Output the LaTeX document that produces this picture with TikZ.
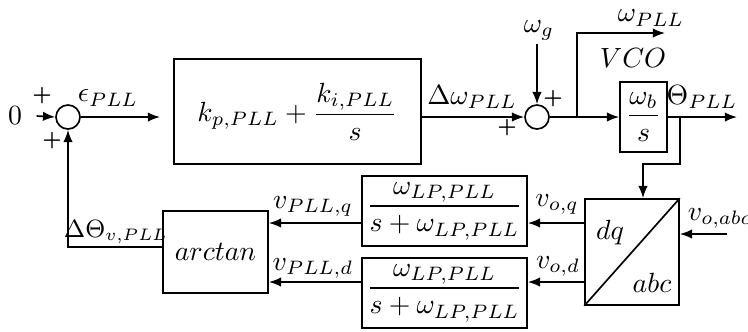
\documentclass[tikz,border=0pt]{standalone}
\usepackage{amsmath}
\usetikzlibrary{arrows.meta}
\newdimen\unitpx
\unitpx=0.36pt
\begin{document}
\begin{tikzpicture}[x=0.36pt,y=-0.36pt,
  line width=0.6pt,
  >={Latex[length=4.4pt,width=3.4pt]},
  block/.style={draw, inner sep=0pt, align=center},
  sumnode/.style={draw, circle, inner sep=0pt, minimum size=24*\unitpx},
  lbl/.style={inner sep=1pt},
  sgn/.style={inner sep=0pt, font=\scriptsize\bfseries}]
\useasboundingbox (0,0) rectangle (748,331);

% helper rows for the horizontal signal lines
\coordinate (qy) at (0,223);
\coordinate (dy) at (0,282);
\coordinate (fb) at (0,247);

% forward path
\node[lbl] (zero) at (15,116) {$0$};
\node[sumnode] (s1) at (68,117) {};
\coordinate (eend) at (160,117);
\node[block, minimum width=247*\unitpx, minimum height=105*\unitpx] (kp) at (297.5,111.5)
  {$k_{p,PLL}+\dfrac{k_{i,PLL}}{s}$};
\node[sumnode] (s2) at (537,117) {};
\node[lbl, anchor=south] (wg) at (539,44) {$\omega_g$};
\node[block, minimum width=47*\unitpx, minimum height=70*\unitpx] (int) at (643.5,117)
  {$\dfrac{\omega_b}{s}$};
\coordinate (br1) at (577,117);
\coordinate (wend) at (665,33);
\coordinate (br2) at (680,117);
\coordinate (thend) at (737,117);
\coordinate (bk) at (643,164);

% dq/abc transformation
\node[block, minimum width=94*\unitpx, minimum height=106*\unitpx] (dq) at (632,252) {};
\draw (dq.south west) -- (dq.north east);
\node[lbl] (dqt) at (610,233) {$dq$};
\node[lbl] (abct) at (652,283) {$abc$};
\coordinate (vin) at (727,234);

% low-pass filters and phase detector
\node[block, minimum width=165*\unitpx, minimum height=70*\unitpx] (lp1) at (444.5,211)
  {$\dfrac{\omega_{LP,PLL}}{s+\omega_{LP,PLL}}$};
\node[block, minimum width=165*\unitpx, minimum height=70*\unitpx] (lp2) at (444.5,293)
  {$\dfrac{\omega_{LP,PLL}}{s+\omega_{LP,PLL}}$};
\node[block, minimum width=105*\unitpx, minimum height=82*\unitpx] (atan) at (215.5,252)
  {$arctan$};

% connectors
\draw[->] ([xshift=4pt]zero.east) -- (s1.west);
\draw[->] (s1.east) -- (eend);
\draw[->] (kp.east |- s2.west) -- (s2.west);
\draw[->] (wg.south -| s2.north) -- (s2.north);
\draw[->] (s2.east) -- (int.west);
\draw[->] (br1) |- (wend);
\draw[->] (int.east) -- (thend);
\draw[->] (br2) |- (bk) -- (bk |- dq.north);
\draw[->] (vin) -- (vin -| dq.east);
\draw[->] (dq.west |- qy) -- (lp1.east |- qy);
\draw[->] (dq.west |- dy) -- (lp2.east |- dy);
\draw[->] (lp1.west |- qy) -- (atan.east |- qy);
\draw[->] (lp2.west |- dy) -- (atan.east |- dy);
\draw[->] (atan.west |- fb) -| (s1.south);

% signal labels
\node[lbl] (leps) at (108,98) {$\epsilon_{PLL}$};
\node[lbl] (ldw) at (472,97) {$\Delta\omega_{PLL}$};
\node[lbl] (lw) at (651,18) {$\omega_{PLL}$};
\node[lbl] (lvco) at (633,58) {$VCO$};
\node[lbl] (lth) at (702,97) {$\Theta_{PLL}$};
\node[lbl] (lvabc) at (720,218) {$v_{o,abc}$};
\node[lbl] (lvq) at (557,204) {$v_{o,q}$};
\node[lbl] (lvd) at (558,266) {$v_{o,d}$};
\node[lbl] (lpq) at (313,206) {$v_{PLL,q}$};
\node[lbl] (lpd) at (313,268) {$v_{PLL,d}$};
\node[lbl, font=\small] (ldth) at (116,232) {$\Delta\Theta_{v,PLL}$};

% summation signs
\node[sgn] (p1) at (42,96) {+};
\node[sgn] (p2) at (52,141) {+};
\node[sgn] (p3) at (507,128) {+};
\node[sgn] (p4) at (553,99) {+};
\end{tikzpicture}
\end{document}
